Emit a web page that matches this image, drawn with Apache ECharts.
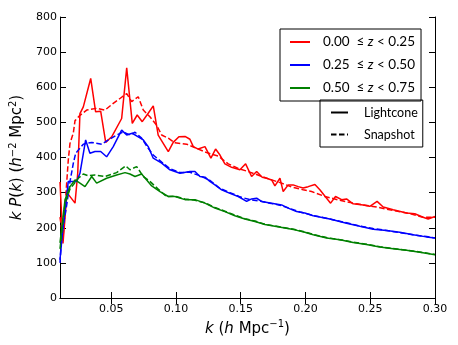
<!DOCTYPE html>
<html>
<head>
<meta charset="utf-8">
<script src="https://cdn.jsdelivr.net/npm/echarts@6/dist/echarts.min.js"></script>
<style>
  html, body { margin: 0; padding: 0; background: #fff; }
  #chart { width: 458px; height: 345px; }
</style>
</head>
<body>
<div id="chart"></div>
<script>
// k values (h/Mpc) and k P(k) values
var redSolidK = [0.0105,0.0128,0.0159,0.0190,0.0221,0.0242,0.0259,0.0285,0.0342,0.0380,0.0419,0.0458,0.0504,0.0581,0.0620,0.0663,0.0701,0.0740,0.0786,0.0825,0.0863,0.0941,0.0979,0.1023,0.1070,0.1108,0.1134,0.1172,0.1224,0.1270,0.1306,0.1340,0.1378,0.1430,0.1494,0.1538,0.1584,0.1623,0.1666,0.1700,0.1739,0.1764,0.1803,0.1828,0.1867,0.1905,0.1944,0.1982,0.2021,0.2073,0.2111,0.2194,0.2232,0.2279,0.2317,0.2368,0.2445,0.2497,0.2553,0.2600,0.2677,0.2780,0.2844,0.2908,0.2947,0.3000];
var redSolidV = [330,155,300,285,270,356,525,544,625,530,532,443,459,511,655,497,521,502,526,547,464,417,443,459,460,452,431,424,431,398,424,407,382,372,365,382,346,360,344,341,336,319,341,303,322,322,317,313,317,323,308,270,289,280,282,268,265,261,275,259,251,242,240,230,225,232];

var redDashK = [0.0105,0.0128,0.0157,0.0169,0.0182,0.0208,0.0221,0.0259,0.0311,0.0388,0.0452,0.0516,0.0568,0.0620,0.0658,0.0709,0.0748,0.0799,0.0851,0.0890,0.0941,0.0992,0.1083,0.1160,0.1237,0.1326,0.1404,0.1481,0.1558,0.1648,0.1725,0.1816,0.1893,0.1982,0.2047,0.2150,0.2266,0.2394,0.2549,0.2677,0.2806,0.2908,0.3000];
var redDashV = [230,170,330,393,440,470,505,520,535,540,535,554,568,582,559,573,535,516,492,464,455,442,438,426,414,404,382,369,360,348,338,327,316,308,303,289,278,268,259,249,240,230,230];

var blueSolidK = [0.0105,0.0128,0.0169,0.0208,0.0234,0.0259,0.0303,0.0336,0.0375,0.0419,0.0465,0.0516,0.0581,0.0620,0.0663,0.0709,0.0748,0.0786,0.0825,0.0890,0.0954,0.1031,0.1108,0.1147,0.1185,0.1224,0.1262,0.1301,0.1353,0.1417,0.1481,0.1546,0.1584,0.1623,0.1661,0.1739,0.1816,0.1867,0.1931,0.1995,0.2060,0.2188,0.2317,0.2420,0.2522,0.2626,0.2728,0.2831,0.2934,0.3000];
var blueSolidV = [109,200,332,332,332,355,450,412,417,417,402,431,478,464,469,459,450,431,398,384,365,355,360,360,346,344,332,322,308,298,289,275,282,284,275,270,265,256,246,242,234,225,213,204,196,192,187,180,174,171];

var blueDashK = [0.0105,0.0118,0.0157,0.0182,0.0208,0.0226,0.0246,0.0285,0.0350,0.0427,0.0478,0.0542,0.0593,0.0645,0.0684,0.0735,0.0786,0.0825,0.0890,0.0954,0.1031,0.1108,0.1185,0.1262,0.1340,0.1417,0.1494,0.1571,0.1648,0.1725,0.1803,0.1880,0.1957,0.2060,0.2188,0.2317,0.2420,0.2522,0.2626,0.2728,0.2831,0.2934,0.3000];
var blueDashV = [100,180,265,331,384,412,421,438,443,438,450,464,473,464,472,455,426,407,387,368,357,358,348,335,312,300,288,280,276,270,264,255,245,235,225,214,205,198,192,186,180,175,171];

var greenSolidK = [0.0105,0.0144,0.0182,0.0221,0.0259,0.0298,0.0350,0.0388,0.0465,0.0542,0.0607,0.0645,0.0684,0.0735,0.0774,0.0813,0.0877,0.0941,0.0992,0.1070,0.1147,0.1224,0.1301,0.1378,0.1455,0.1532,0.1610,0.1687,0.1764,0.1841,0.1918,0.1995,0.2060,0.2163,0.2266,0.2368,0.2471,0.2574,0.2677,0.2780,0.2883,0.3000];
var greenSolidV = [157,280,317,336,327,317,346,327,341,350,357,353,346,353,336,319,303,289,289,280,280,270,256,246,234,225,218,209,204,199,194,187,180,171,166,158,152,145,140,136,130,123];

var greenDashK = [0.0105,0.0144,0.0182,0.0246,0.0285,0.0323,0.0375,0.0452,0.0542,0.0612,0.0645,0.0697,0.0748,0.0799,0.0863,0.0928,0.0992,0.1070,0.1147,0.1224,0.1301,0.1378,0.1455,0.1532,0.1610,0.1687,0.1764,0.1841,0.1918,0.1995,0.2060,0.2163,0.2266,0.2368,0.2471,0.2574,0.2677,0.2780,0.2883,0.3000];
var greenDashV = [140,270,310,341,353,348,350,346,357,376,365,374,346,332,310,289,290,282,278,271,258,247,236,226,219,210,205,200,195,188,181,172,166,159,153,146,141,136,131,124];

var zNames = ['0.00  \u2264 z < 0.25', '0.25  \u2264 z < 0.50', '0.50  \u2264 z < 0.75'];
var styleNames = ['Lightcone', 'Snapshot'];
var xTicks = [0.05, 0.10, 0.15, 0.20, 0.25, 0.30];

function pairs(ks, vs) {
    var out = [];
    for (var i = 0; i < ks.length && i < vs.length; i++) out.push([ks[i], vs[i]]);
    return out;
}

function lineSeries(name, ks, vs, color, dashed) {
    return {
        name: name,
        type: 'line',
        data: pairs(ks, vs),
        showSymbol: false,
        symbol: 'none',
        color: color,
        lineStyle: { color: color, width: 1.5, type: dashed ? [5.5, 2.5] : 'solid' },
        silent: true
    };
}

var font = 'DejaVu Sans';
var tickStyle = { show: true, inside: true, length: 6, lineStyle: { color: '#000', width: 1 } };

var myChart = echarts.init(document.getElementById('chart'));
var option = {
    animation: false,
    backgroundColor: '#fff',
    grid: { left: 60, right: 23, top: 17, bottom: 47 },
    legend: [
        {
            data: zNames,
            orient: 'vertical',
            left: 280, top: 29,
            borderColor: '#000', borderWidth: 1, borderRadius: 0,
            padding: [6, 6, 6, 9],
            itemWidth: 20, itemHeight: 10, itemGap: 9,
            itemStyle: { opacity: 0 },
            formatter: function (n) { return n.replace('z', '{i|z}'); },
            textStyle: {
                fontFamily: 'Lato', fontSize: 13.5, color: '#000', padding: [0, 0, 0, 8],
                rich: { i: { fontStyle: 'italic', fontFamily: 'Lato', fontSize: 13.5, color: '#000' } }
            }
        },
        {
            data: styleNames,
            orient: 'vertical',
            left: 320, top: 100,
            borderColor: '#000', borderWidth: 1, borderRadius: 0,
            padding: [6, 5, 6, 10],
            itemWidth: 17, itemHeight: 10, itemGap: 9,
            itemStyle: { opacity: 0 },
            textStyle: { fontFamily: 'Lato', fontSize: 12.5, color: '#000', padding: [0, 0, 0, 11] }
        }
    ],
    xAxis: [
        {
            type: 'value', min: 0.0105, max: 0.30, position: 'bottom',
            axisLine: { lineStyle: { color: '#000', width: 1 } },
            axisTick: Object.assign({ customValues: xTicks }, tickStyle),
            axisLabel: {
                customValues: xTicks, color: '#000', fontFamily: font, fontSize: 11, margin: 6,
                formatter: function (v) { return v.toFixed(2); }
            },
            splitLine: { show: false },
            name: '{i|k} ({i|h} Mpc{s|\u22121})',
            nameLocation: 'middle', nameGap: 18,
            nameTextStyle: {
                fontFamily: font, fontSize: 15, color: '#000',
                rich: {
                    i: { fontStyle: 'italic', fontFamily: font, fontSize: 15, color: '#000' },
                    s: { fontFamily: font, fontSize: 10, color: '#000', verticalAlign: 'top', padding: [0, 0, 9, 0] }
                }
            }
        },
        {
            type: 'value', min: 0.0105, max: 0.30, position: 'top',
            axisLine: { lineStyle: { color: '#000', width: 1 } },
            axisTick: Object.assign({ customValues: xTicks }, tickStyle),
            axisLabel: { show: false },
            splitLine: { show: false }
        }
    ],
    yAxis: [
        {
            type: 'value', min: 0, max: 800, interval: 100, position: 'left',
            axisLine: { show: true, lineStyle: { color: '#000', width: 1 } },
            axisTick: tickStyle,
            axisLabel: { color: '#000', fontFamily: font, fontSize: 11, margin: 3 },
            splitLine: { show: false },
            name: '{i|k} {i|P}({i|k}) ({i|h}{s|\u22122} Mpc{s|2})',
            nameLocation: 'middle', nameRotate: 90, nameGap: 27,
            nameTextStyle: {
                fontFamily: font, fontSize: 15, color: '#000',
                rich: {
                    i: { fontStyle: 'italic', fontFamily: font, fontSize: 15, color: '#000' },
                    s: { fontFamily: font, fontSize: 10, color: '#000', verticalAlign: 'top', padding: [0, 0, 9, 0] }
                }
            }
        },
        {
            type: 'value', min: 0, max: 800, interval: 100, position: 'right',
            axisLine: { show: true, lineStyle: { color: '#000', width: 1 } },
            axisTick: tickStyle,
            axisLabel: { show: false },
            splitLine: { show: false }
        }
    ],
    series: [
        lineSeries(zNames[0], redSolidK, redSolidV, '#ff0000', false),
        lineSeries('snap0', redDashK, redDashV, '#ff0000', true),
        lineSeries(zNames[1], blueSolidK, blueSolidV, '#0000ff', false),
        lineSeries('snap1', blueDashK, blueDashV, '#0000ff', true),
        lineSeries(zNames[2], greenSolidK, greenSolidV, '#008000', false),
        lineSeries('snap2', greenDashK, greenDashV, '#008000', true),
        lineSeries(styleNames[0], [], [], '#000', false),
        lineSeries(styleNames[1], [], [], '#000', true)
    ]
};
myChart.setOption(option, true);
</script>
</body>
</html>
